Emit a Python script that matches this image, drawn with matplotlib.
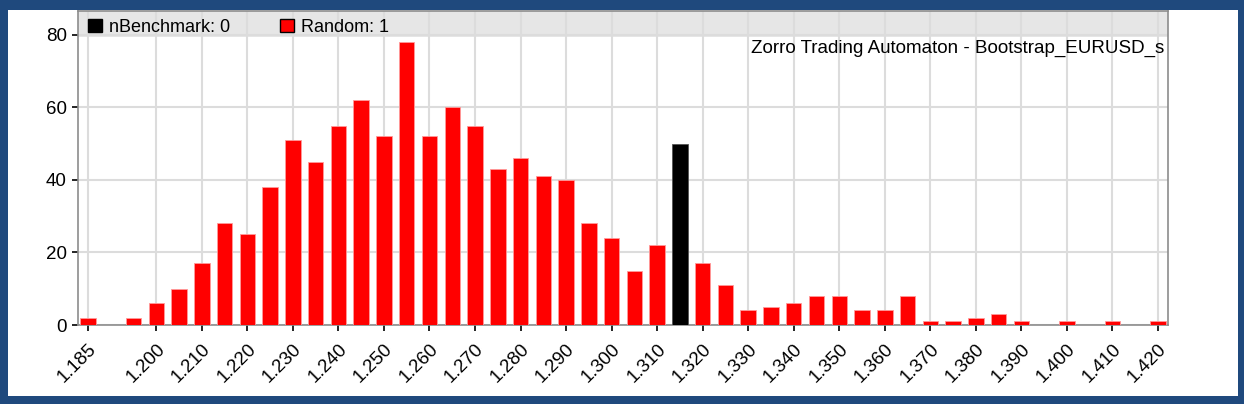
import matplotlib
matplotlib.use("Agg")
import matplotlib.pyplot as plt
from matplotlib.patches import Rectangle, Patch

plt.rcParams['font.family'] = ['Liberation Sans', 'DejaVu Sans']

# histogram bins (bin centre) and counts
random_bins = [1.185, 1.195, 1.200, 1.205, 1.210, 1.215, 1.220, 1.225, 1.230, 1.235,
               1.240, 1.245, 1.250, 1.255, 1.260, 1.265, 1.270, 1.275, 1.280, 1.285,
               1.290, 1.295, 1.300, 1.305, 1.310, 1.320, 1.325, 1.330, 1.335, 1.340,
               1.345, 1.350, 1.355, 1.360, 1.365, 1.370, 1.375, 1.380, 1.385, 1.390,
               1.400, 1.410, 1.420]
random_counts = [2, 2, 6, 10, 17, 28, 25, 38, 51, 45,
                 55, 62, 52, 78, 52, 60, 55, 43, 46, 41,
                 40, 28, 24, 15, 22, 17, 11, 4, 5, 6,
                 8, 8, 4, 4, 8, 1, 1, 2, 3, 1,
                 1, 1, 1]
bench_bins = [1.315]
bench_counts = [50]

tick_vals = [1.185, 1.200, 1.210, 1.220, 1.230, 1.240, 1.250, 1.260, 1.270, 1.280,
             1.290, 1.300, 1.310, 1.320, 1.330, 1.340, 1.350, 1.360, 1.370, 1.380,
             1.390, 1.400, 1.410, 1.420]
tick_labels = ["%.3f" % v for v in tick_vals]

W, H = 1244, 404
fig = plt.figure(figsize=(W / 100, H / 100), dpi=100, facecolor="#1F497D")
fig.patches.append(Rectangle((8 / W, 8 / H), (1238 - 8) / W, (394 - 8) / H,
                             transform=fig.transFigure, facecolor="white",
                             edgecolor="none", zorder=-10))

ax = fig.add_axes([78 / W, (H - 325) / H, (1168 - 78) / W, (325 - 11) / H])
ax.set_facecolor("white")

ax.bar(random_bins, random_counts, width=0.0034, color="#ff0000",
       edgecolor="#ff9a9a", linewidth=0.6, zorder=3)
ax.bar(bench_bins, bench_counts, width=0.0034, color="black",
       edgecolor="#555555", linewidth=0.6, zorder=3)

ax.set_xlim(1.1828, 1.4222)
ax.set_ylim(0, 86.6)

# gray legend strip along the top
ax.axhspan(79.4, 86.6, color="#e6e6e6", zorder=0.5, lw=0)

ax.set_xticks(tick_vals)
ax.set_xticklabels(tick_labels, rotation=45, ha="right", va="top",
                   rotation_mode="anchor")
ax.set_yticks([0, 20, 40, 60, 80])
ax.tick_params(axis="both", labelsize=13.5, length=4, width=1.2,
               color="black", direction="out")
ax.tick_params(axis="x", pad=7)
ax.tick_params(axis="y", pad=4)

ax.grid(True, color="#dcdcdc", linewidth=1.5, zorder=1)
ax.set_axisbelow(True)
for s in ax.spines.values():
    s.set_color("#8c8c8c")
    s.set_linewidth(1.2)

handles = [Patch(facecolor="black", edgecolor="black"),
           Patch(facecolor="#ff0000", edgecolor="black")]
ax.legend(handles, ["nBenchmark: 0", "Random: 1"], loc="upper left", ncol=2,
          frameon=False, fontsize=13, handlelength=0.75, handleheight=0.75,
          handletextpad=0.4, columnspacing=2.75, borderaxespad=0,
          bbox_to_anchor=(0.003, 0.998))

ax.text(0.997, 0.882, "Zorro Trading Automaton - Bootstrap_EURUSD_s",
        transform=ax.transAxes, ha="right", va="center", fontsize=13.5)

fig.savefig("out.png", dpi=100, facecolor=fig.get_facecolor())
